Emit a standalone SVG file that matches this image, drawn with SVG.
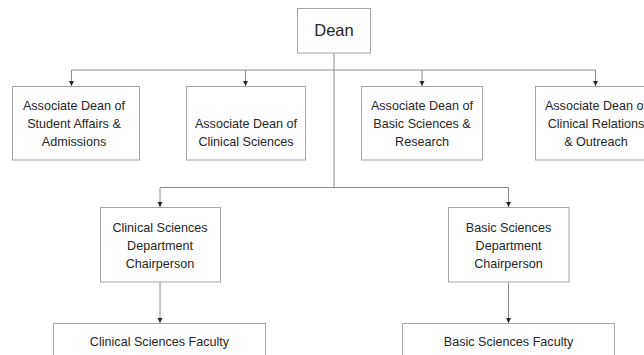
<svg xmlns="http://www.w3.org/2000/svg" width="644" height="355" viewBox="0 0 644 355">
<style>
.box{fill:#fff;stroke:#a6a6a6;stroke-width:1}
.t{font-family:"Liberation Sans",Arial,sans-serif;font-size:12.6px;fill:#262626;text-anchor:middle}
.big{font-size:16.5px}
.c{fill:none;stroke:#8c8c8c;stroke-width:1}
</style>
<defs>
<marker id="ah" markerWidth="6" markerHeight="6" refX="5" refY="3" orient="auto" markerUnits="userSpaceOnUse">
<path d="M0,0.5 L5,3 L0,5.5 z" fill="#262626"/>
</marker>
</defs>
<rect width="644" height="355" fill="#fff"/>
<g id="connectors">
<path class="c" d="M334,53 V187.5"/>
<path class="c" d="M71.5,70 H595.5"/>
<path class="c" d="M71.5,70 V86" marker-end="url(#ah)"/>
<path class="c" d="M245.5,70 V86" marker-end="url(#ah)"/>
<path class="c" d="M422,70 V86" marker-end="url(#ah)"/>
<path class="c" d="M595.5,70 V86" marker-end="url(#ah)"/>
<path class="c" d="M160,187.5 H508.5"/>
<path class="c" d="M160,187.5 V207" marker-end="url(#ah)"/>
<path class="c" d="M508.5,187.5 V207" marker-end="url(#ah)"/>
<path class="c" d="M160,282.5 V323" marker-end="url(#ah)"/>
<path class="c" d="M508.5,282.5 V323" marker-end="url(#ah)"/>
</g>
<g id="dean">
<rect class="box" x="297.5" y="8.5" width="73" height="44.5"/>
<text class="t big" x="334" y="36">Dean</text>
</g>
<g id="ad-student">
<rect class="box" x="12.5" y="86.5" width="127" height="73.5"/>
<text class="t" x="74" y="109.5">Associate Dean of</text>
<text class="t" x="74" y="127.5">Student Affairs &amp;</text>
<text class="t" x="74" y="146">Admissions</text>
</g>
<g id="ad-clinical">
<rect class="box" x="186.5" y="86.5" width="119" height="73.5"/>
<text class="t" x="246" y="127.5">Associate Dean of</text>
<text class="t" x="246" y="145.5">Clinical Sciences</text>
</g>
<g id="ad-basic">
<rect class="box" x="361.5" y="86.5" width="121" height="73.5"/>
<text class="t" x="422" y="109.5">Associate Dean of</text>
<text class="t" x="422" y="127.5">Basic Sciences &amp;</text>
<text class="t" x="422" y="146">Research</text>
</g>
<g id="ad-relations">
<rect class="box" x="535.5" y="86.5" width="121" height="73.5"/>
<text class="t" x="596" y="109.5">Associate Dean of</text>
<text class="t" x="596" y="127.5">Clinical Relations</text>
<text class="t" x="596" y="146">&amp; Outreach</text>
</g>
<g id="chair-clinical">
<rect class="box" x="100.5" y="207.5" width="120" height="74.5"/>
<text class="t" x="160" y="231.5">Clinical Sciences</text>
<text class="t" x="160" y="249.5">Department</text>
<text class="t" x="160" y="267.5">Chairperson</text>
</g>
<g id="chair-basic">
<rect class="box" x="448.5" y="207.5" width="120.5" height="74.5"/>
<text class="t" x="508.5" y="231.5">Basic Sciences</text>
<text class="t" x="508.5" y="249.5">Department</text>
<text class="t" x="508.5" y="267.5">Chairperson</text>
</g>
<g id="fac-clinical">
<rect class="box" x="53.5" y="323.5" width="212" height="40"/>
<text class="t" x="159.5" y="346">Clinical Sciences Faculty</text>
</g>
<g id="fac-basic">
<rect class="box" x="402.5" y="323.5" width="212" height="40"/>
<text class="t" x="508.5" y="346">Basic Sciences Faculty</text>
</g>
</svg>
